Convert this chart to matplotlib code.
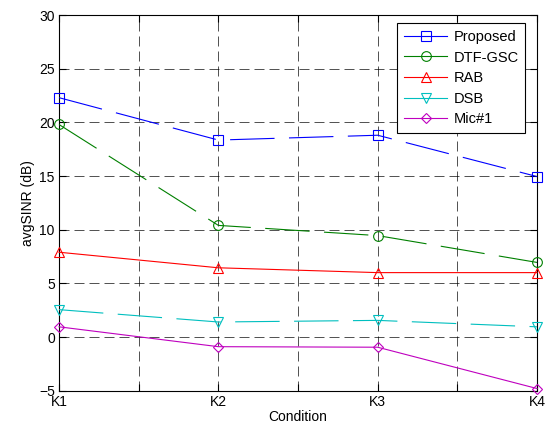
import matplotlib
matplotlib.use("Agg")
import matplotlib.pyplot as plt
from matplotlib.lines import Line2D

plt.rcParams['font.family'] = ['Liberation Sans', 'DejaVu Sans']

# data
conditions = ["K1", "K2", "K3", "K4"]
proposed = [22.3, 18.35, 18.8, 14.95]
dtf_gsc = [19.8, 10.4, 9.45, 6.95]
rab = [7.9, 6.45, 6.0, 6.0]
dsb = [2.55, 1.4, 1.55, 0.95]
mic1 = [0.95, -0.9, -0.95, -4.8]

xpos = [1, 2, 3, 4]
dash = (0, (40, 13))
series = [
    ("Proposed", proposed, "b", "s", dash),
    ("DTF-GSC", dtf_gsc, "g", "o", dash),
    ("RAB", rab, "r", "^", "-"),
    ("DSB", dsb, "c", "v", dash),
    ("Mic#1", mic1, "m", "D", "-"),
]

fig = plt.figure(figsize=(5.53, 4.34), dpi=100)
ax = fig.add_axes([0.1067, 0.0998, 0.8644, 0.8656])

handles = []
for name, vals, col, mk, ls in series:
    ms = 5 if mk == "D" else 7
    ax.plot(xpos, vals, color=col, linestyle=ls, linewidth=0.8, marker=mk,
            markersize=ms, markerfacecolor="none", markeredgecolor=col,
            markeredgewidth=0.8, clip_on=False, zorder=3)
    handles.append(Line2D([0], [0], color=col, linewidth=0.8, marker=mk,
                          markersize=ms, markerfacecolor="none",
                          markeredgecolor=col, markeredgewidth=0.8))

ax.set_xlim(1, 4)
ax.set_ylim(-5, 30)
ax.set_xticks([1, 1.5, 2, 2.5, 3, 3.5, 4])
ax.set_xticklabels(["K1", "", "K2", "", "K3", "", "K4"])
ax.set_yticks(range(-5, 31, 5))
ax.tick_params(direction="in", labelsize=10, length=5, width=0.8, pad=3)
ax.tick_params(top=True, right=True)
ax.grid(True, color="black", linestyle=(0, (12, 6)), linewidth=0.6, alpha=0.8)
for sp in ax.spines.values():
    sp.set_linewidth(0.8)

ax.set_xlabel("Condition", fontsize=10, labelpad=1)
ax.set_ylabel("avgSINR (dB)", fontsize=10, labelpad=3)

leg = ax.legend(handles, [s[0] for s in series], loc="upper right",
                bbox_to_anchor=(0.99, 0.997), fontsize=10.5, fancybox=False,
                framealpha=1, edgecolor="black", handlelength=3.0,
                borderpad=0.45, labelspacing=0.45, handletextpad=0.4)
leg.get_frame().set_linewidth(0.8)

fig.savefig("out.png", dpi=100)
